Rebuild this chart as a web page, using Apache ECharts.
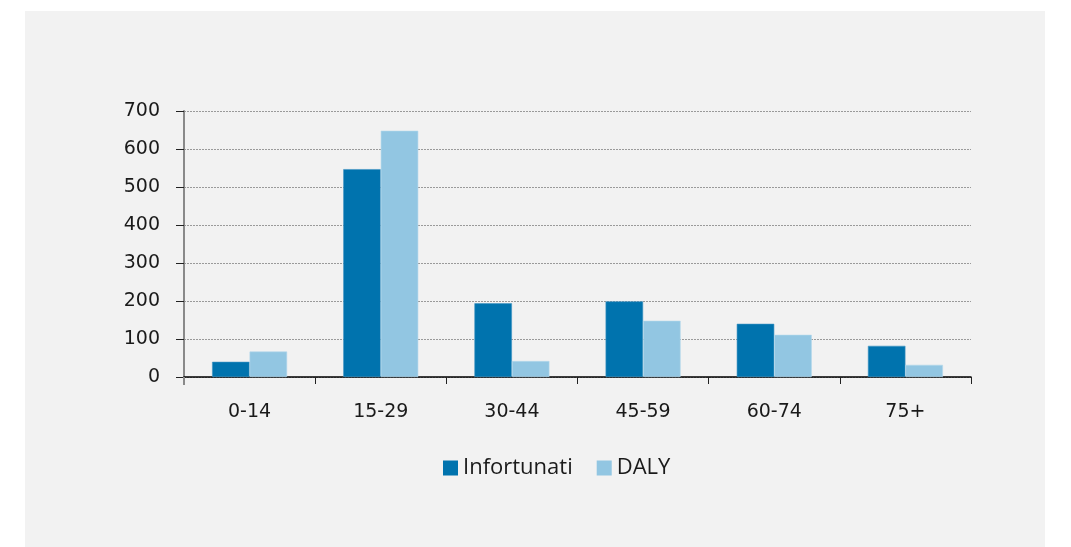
<!DOCTYPE html>
<html>
<head>
<meta charset="utf-8">
<script src="https://cdn.jsdelivr.net/npm/echarts@6/dist/echarts.min.js"></script>
<style>
  html, body { margin: 0; padding: 0; background: #ffffff; }
  #chart { width: 1071px; height: 547px; }
</style>
</head>
<body>
<div id="chart"></div>
<script>
// Age groups and values per group
const categories = ['0-14', '15-29', '30-44', '45-59', '60-74', '75+'];
const infortunati = [40, 547, 194, 199, 140, 82];
const daly = [67, 648, 42, 148, 111, 32];
const yTicks = { min: 0, max: 700, step: 100 };

const axisFont = 'DejaVu Sans, Verdana, sans-serif';

const chart = echarts.init(document.getElementById('chart'), null, { renderer: 'canvas' });

chart.setOption({
  backgroundColor: '#ffffff',
  animation: false,
  graphic: [
    {
      type: 'rect',
      z: -10,
      shape: { x: 25, y: 11, width: 1020, height: 536 },
      style: { fill: '#f2f2f2' }
    },
    {
      // short extension of the value axis below the category axis
      type: 'line',
      z: 5,
      shape: { x1: 184, y1: 377, x2: 184, y2: 385 },
      style: { stroke: '#8a8a8a', lineWidth: 2 }
    }
  ],
  grid: { left: 184, right: 100, top: 111, bottom: 170, containLabel: false },
  legend: {
    left: 438,
    top: 452,
    itemWidth: 15,
    itemHeight: 15,
    itemGap: 24,
    icon: 'rect',
    itemStyle: { borderWidth: 0 },
    textStyle: { fontFamily: 'Open Sans, Noto Sans, sans-serif', fontSize: 22, color: '#1a1a1a' },
    data: ['Infortunati', 'DALY']
  },
  xAxis: {
    type: 'category',
    data: categories,
    axisLine: { show: true, lineStyle: { color: '#000000', width: 1.5 } },
    axisTick: { show: true, length: 7, interval: 0, alignWithLabel: false, lineStyle: { color: '#222222', width: 1 } },
    axisLabel: { margin: 26, fontFamily: axisFont, fontSize: 19, color: '#1a1a1a' },
    splitLine: { show: false }
  },
  yAxis: {
    type: 'value',
    min: yTicks.min,
    max: yTicks.max,
    interval: yTicks.step,
    axisLine: { show: true, lineStyle: { color: '#8a8a8a', width: 2 } },
    axisTick: { show: true, length: 8, lineStyle: { color: '#222222', width: 1 } },
    axisLabel: { margin: 24, fontFamily: axisFont, fontSize: 19, color: '#1a1a1a' },
    splitLine: { show: true, lineStyle: { color: '#9a9a9a', width: 1, type: [2, 1] } }
  },
  series: [
    {
      name: 'Infortunati',
      type: 'bar',
      data: infortunati,
      barWidth: 37.5,
      barGap: '0%',
      itemStyle: { color: '#0073ae', borderColor: '#3f93c2', borderWidth: 0.6 }
    },
    {
      name: 'DALY',
      type: 'bar',
      data: daly,
      barWidth: 37.5,
      barGap: '0%',
      itemStyle: { color: '#92c6e2', borderColor: '#b4d8ec', borderWidth: 0.6 }
    }
  ]
});
</script>
</body>
</html>
